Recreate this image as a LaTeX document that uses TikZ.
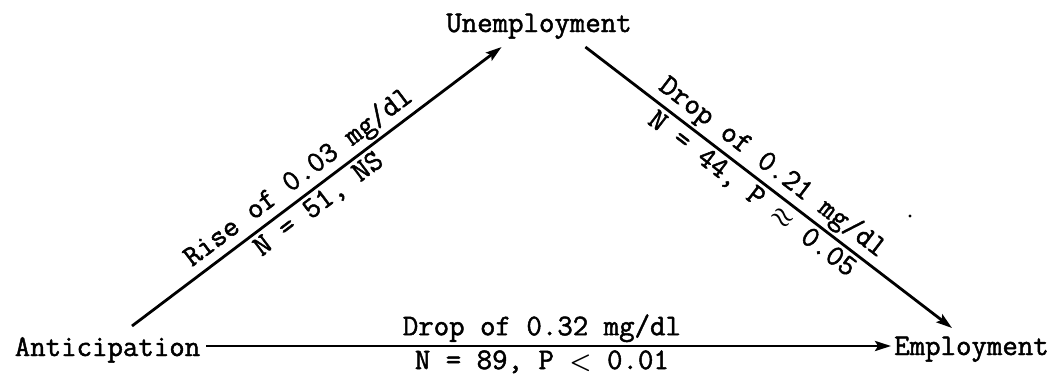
\documentclass[tikz,border=0pt]{standalone}
\usepackage{fontspec}
\newfontfamily\tw{Latin Modern Mono}[FakeBold=1.6]
\usetikzlibrary{arrows.meta}
\tikzset{
  lbl/.style={font=\fontsize{30}{32}\selectfont\tw, inner sep=0pt},
  arr/.style={line width=2.8pt, -{Stealth[length=16pt,width=10pt,inset=3pt]}},
  up/.style={sloped, anchor=south, inner sep=2.5pt, pos=0.48, font=\fontsize{30}{32}\selectfont\tw},
  dn/.style={sloped, anchor=north, inner sep=3pt, pos=0.48, font=\fontsize{30}{32}\selectfont\tw},
}
\begin{document}
\begin{tikzpicture}[x=1pt,y=1pt]
\useasboundingbox (0,0) rectangle (1057,376);
\node[lbl, anchor=base] (A) at (107.5,20) {Anticipation};
\node[lbl, anchor=base] (U) at (539,344) {Unemployment};
\node[lbl, anchor=base] (E) at (971.5,21) {Employment};

\draw[arr] ([xshift=24.5pt,yshift=30pt]A.base) -- ([xshift=55.5pt,yshift=-15pt]U.base west)
  node[up] {Rise of 0.03 mg/dl}
  node[dn] {N = 51, NS};
\draw[arr] ([xshift=-46.5pt,yshift=-15pt]U.base east) -- ([xshift=-19.5pt,yshift=27pt]E.base)
  node[up] {Drop of 0.21 mg/dl}
  node[dn] {N = 44, P {\boldmath$\approx$} 0.05};
\draw[arr] ([xshift=6pt,yshift=10pt]A.base east) -- ([xshift=-3pt,yshift=9pt]E.base west)
  node[up, pos=0.49] {Drop of 0.32 mg/dl}
  node[dn, pos=0.49] {N = 89, P {\boldmath$<$} 0.01};

\fill (910,160) circle (1.6pt);
\end{tikzpicture}
\end{document}
